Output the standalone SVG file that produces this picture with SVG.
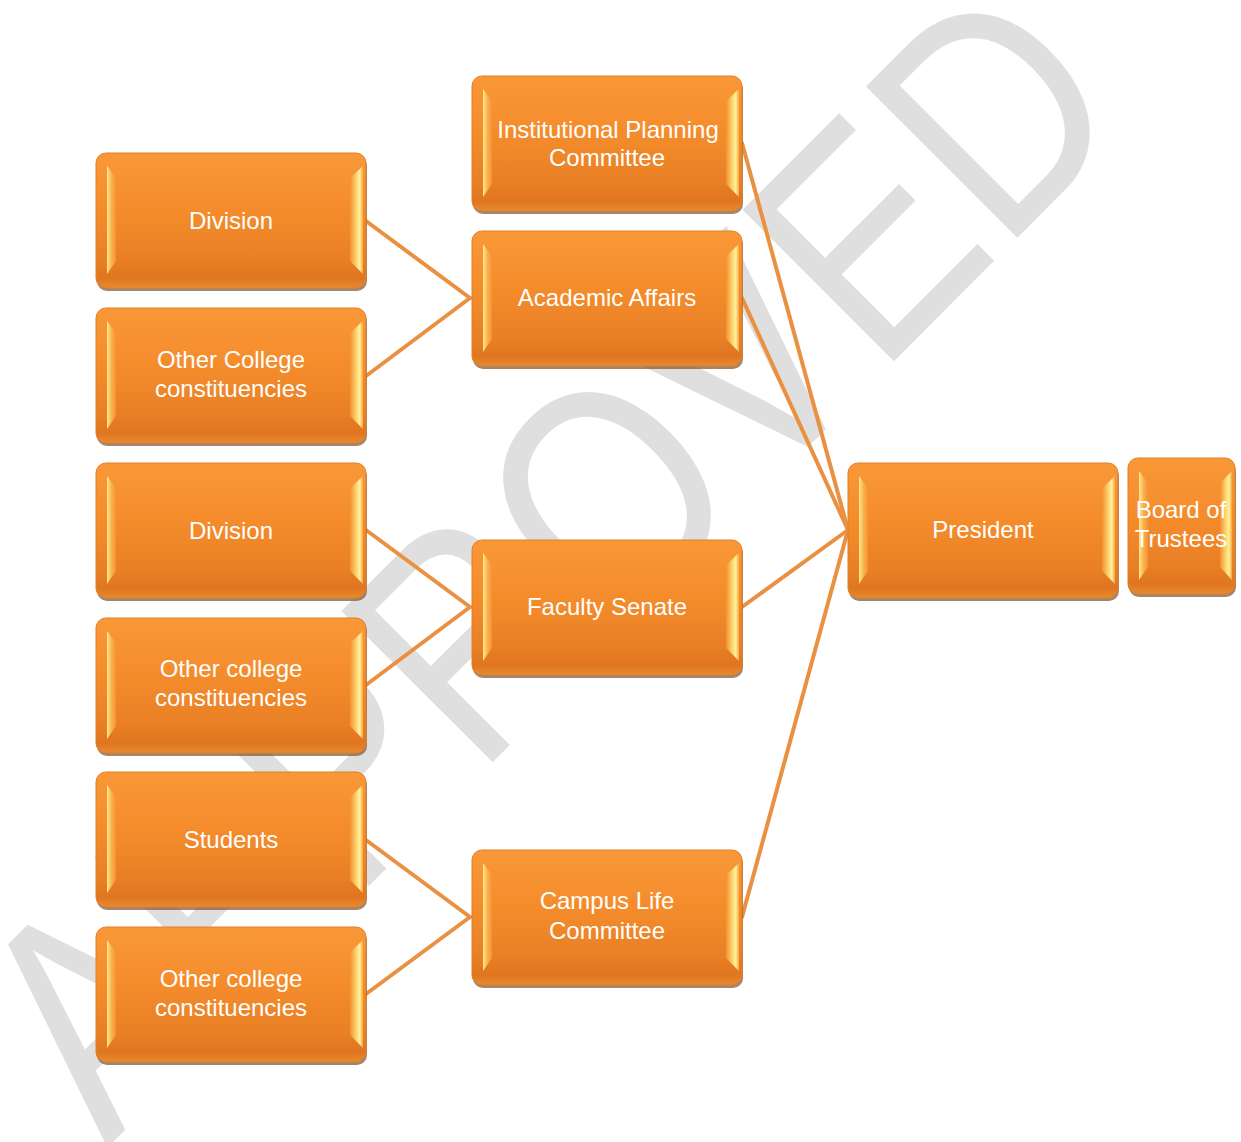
<svg xmlns="http://www.w3.org/2000/svg" xmlns:xlink="http://www.w3.org/1999/xlink" width="1241" height="1142" viewBox="0 0 1241 1142">
<style>
.wm{font-family:"Liberation Sans",Arial,sans-serif;font-size:311px;fill:#dfdfdf}
.t{font-family:"Liberation Sans",Arial,sans-serif;font-size:24px;fill:#ffffff;text-anchor:middle}
.c{stroke:#ea9141;stroke-width:4;fill:none;stroke-linecap:round}
</style>
<defs>
<linearGradient id="base" x1="0" y1="0" x2="0" y2="1">
<stop offset="0" stop-color="#f99838"/>
<stop offset="0.45" stop-color="#f48b2b"/>
<stop offset="0.8" stop-color="#e87f25"/>
<stop offset="0.93" stop-color="#df7620"/>
<stop offset="1" stop-color="#e88a30"/>
</linearGradient>
<linearGradient id="lb" x1="0" y1="0" x2="1" y2="0">
<stop offset="0" stop-color="#ffe98e"/>
<stop offset="0.5" stop-color="#fbb24e"/>
<stop offset="1" stop-color="#f59232"/>
</linearGradient>
<linearGradient id="rb" x1="0" y1="0" x2="1" y2="0">
<stop offset="0" stop-color="#f39030"/>
<stop offset="0.45" stop-color="#fdd06a"/>
<stop offset="0.75" stop-color="#fff29a"/>
<stop offset="1" stop-color="#f7a440"/>
</linearGradient>
<g id="box">
<rect x="1" y="3" width="270" height="135" rx="10" fill="#7a5232" opacity="0.7"/>
<rect x="0" y="0" width="270" height="135" rx="10" fill="url(#base)" stroke="#e07f28" stroke-width="1"/>
<polygon points="11,13 20,25 20,108 11,121" fill="url(#lb)"/>
<polygon points="254,25 267,13 267,121 254,108" fill="url(#rb)"/>
</g>
<g id="boxS">
<rect x="1" y="3" width="107" height="136" rx="10" fill="#7a5232" opacity="0.7"/>
<rect x="0" y="0" width="107" height="136" rx="10" fill="url(#base)" stroke="#e07f28" stroke-width="1"/>
<polygon points="11,13 20,25 20,109 11,122" fill="url(#lb)"/>
<polygon points="92,25 104,13 104,122 92,109" fill="url(#rb)"/>
</g>
</defs>
<rect width="1241" height="1142" fill="#ffffff"/>
<text class="wm" transform="translate(107,1148) rotate(-45)" textLength="1455" lengthAdjust="spacingAndGlyphs">APPROVED</text>
<g id="connectors">
<line class="c" x1="366" y1="221" x2="470" y2="298"/>
<line class="c" x1="366" y1="376" x2="470" y2="298"/>
<line class="c" x1="366" y1="530" x2="470" y2="607"/>
<line class="c" x1="366" y1="685" x2="470" y2="607"/>
<line class="c" x1="366" y1="840" x2="470" y2="917"/>
<line class="c" x1="366" y1="994" x2="470" y2="917"/>
<line class="c" x1="742" y1="143" x2="848" y2="530"/>
<line class="c" x1="742" y1="298" x2="848" y2="530"/>
<line class="c" x1="742" y1="607" x2="848" y2="530"/>
<line class="c" x1="742" y1="917" x2="848" y2="530"/>
</g>
<g id="division1" transform="translate(96,153)"><use xlink:href="#box"/><text class="t" x="135" y="76">Division</text></g>
<g id="other1" transform="translate(96,308)"><use xlink:href="#box"/><text class="t" x="135" y="60">Other College</text><text class="t" x="135" y="89">constituencies</text></g>
<g id="division2" transform="translate(96,463)"><use xlink:href="#box"/><text class="t" x="135" y="76">Division</text></g>
<g id="other2" transform="translate(96,618)"><use xlink:href="#box"/><text class="t" x="135" y="59">Other college</text><text class="t" x="135" y="88">constituencies</text></g>
<g id="students" transform="translate(96,772)"><use xlink:href="#box"/><text class="t" x="135" y="76">Students</text></g>
<g id="other3" transform="translate(96,927)"><use xlink:href="#box"/><text class="t" x="135" y="60">Other college</text><text class="t" x="135" y="89">constituencies</text></g>
<g id="ipc" transform="translate(472,76)"><use xlink:href="#box"/><text class="t" x="136" y="62">Institutional Planning</text><text class="t" x="135" y="90">Committee</text></g>
<g id="academic" transform="translate(472,231)"><use xlink:href="#box"/><text class="t" x="135" y="75">Academic Affairs</text></g>
<g id="senate" transform="translate(472,540)"><use xlink:href="#box"/><text class="t" x="135" y="75">Faculty Senate</text></g>
<g id="campus" transform="translate(472,850)"><use xlink:href="#box"/><text class="t" x="135" y="59">Campus Life</text><text class="t" x="135" y="89">Committee</text></g>
<g id="president" transform="translate(848,463)"><use xlink:href="#box"/><text class="t" x="135" y="75">President</text></g>
<g id="board" transform="translate(1128,458)"><use xlink:href="#boxS"/><text class="t" x="53" y="60">Board of</text><text class="t" x="53" y="89">Trustees</text></g>
</svg>
